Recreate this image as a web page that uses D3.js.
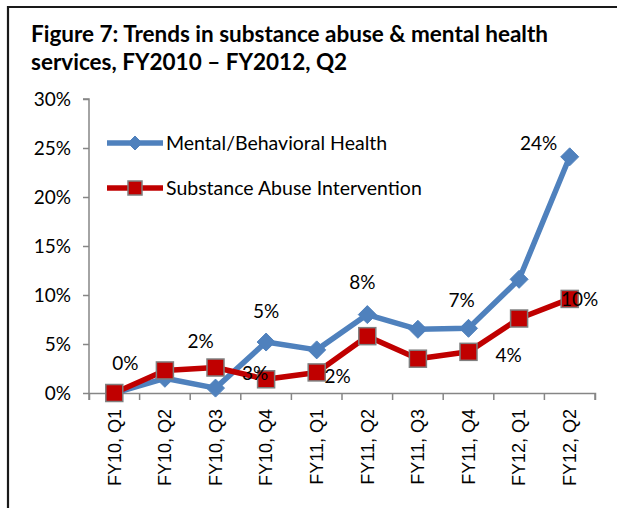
<!DOCTYPE html>
<html><head><meta charset="utf-8">
<script src="https://cdn.jsdelivr.net/npm/d3@7"></script>
<style>body{margin:0;background:#fff}svg{display:block}</style>
</head><body>
<svg id="c" width="617" height="508"></svg>
<script>
const categories = ["FY10, Q1","FY10, Q2","FY10, Q3","FY10, Q4","FY11, Q1","FY11, Q2","FY11, Q3","FY11, Q4","FY12, Q1","FY12, Q2"];
const mentalHealth = [0.0, 1.5, 0.5, 5.2, 4.4, 8.0, 6.5, 6.6, 11.6, 24.1];
const substanceAbuse = [0.0, 2.3, 2.6, 1.4, 2.1, 5.8, 3.5, 4.2, 7.6, 9.6];
const yTicks = [0, 5, 10, 15, 20, 25, 30];
const seriesNames = ["Mental/Behavioral Health", "Substance Abuse Intervention"];
// data labels as shown: text, category index, value anchor
const labelTexts = ["0%","2%","3%","5%","2%","8%","7%","4%","24%","10%"];
const labelCats  = [0, 2, 3, 3, 4, 5, 7, 7, 9, 9];
const labelVals  = [0.0, 0.5, 1.4, 5.2, 2.1, 8.0, 6.6, 4.2, 24.1, 9.6];

const svg = d3.select("#c");
const W = 617, H = 508;
const m = {left: 89, top: 99, right: 23, bottom: 115};
const x = d3.scaleBand().domain(categories).range([m.left, 595]).padding(0);
const y = d3.scaleLinear().domain([0, 30]).range([393, 99]);
const F = "Lato, 'Open Sans', sans-serif";

// frame
svg.append("path").attr("d", `M8,${H+5} L8,7 L${W+5},7`).attr("fill","none").attr("stroke","#1a1a1a").attr("stroke-width",2.2);

// title
const title = svg.append("text").attr("font-family",F).attr("font-weight","bold").attr("font-size",22.5).attr("fill","#000");
title.append("tspan").attr("x",31).attr("y",42).text("Figure 7: Trends in substance abuse & mental health");
title.append("tspan").attr("x",31).attr("y",70).text("services, FY2010 \u2013 FY2012, Q2");

// y axis
const yAxis = d3.axisLeft(y).tickValues(yTicks).tickFormat(d => d + "%").tickSize(6).tickPadding(12);
const gy = svg.append("g").attr("transform",`translate(${m.left},0)`).call(yAxis);
gy.select(".domain").attr("stroke","#868686").attr("stroke-width",1.5).attr("d", `M-6,${y(30)}H0V${y(0)}`);
gy.selectAll(".tick line").attr("stroke","#868686").attr("stroke-width",1.5);
gy.selectAll(".tick text").attr("font-family",F).attr("font-size",19).attr("fill","#000");

// x axis
const xAxis = d3.axisBottom(x).tickSize(7).tickSizeOuter(7);
const gx = svg.append("g").attr("transform",`translate(0,${y(0)})`).call(xAxis);
gx.select(".domain").attr("stroke","#868686").attr("stroke-width",1.5);
gx.selectAll(".tick line").attr("stroke","#868686").attr("stroke-width",1.5)
  .attr("transform", `translate(${x.bandwidth()/2},0)`);
gx.selectAll(".tick text").attr("font-family","'Liberation Sans', Arial, sans-serif").attr("font-size",18).attr("fill","#000")
  .attr("transform","rotate(-90)").attr("text-anchor","end").attr("x",-16).attr("y",0).attr("dy","0.35em").attr("dx",0);
gx.append("line").attr("x1",m.left).attr("x2",m.left).attr("y1",0).attr("y2",7).attr("stroke","#868686").attr("stroke-width",1.5);

const cx = d => x(d) + x.bandwidth()/2;
const line = d3.line().x((d,i) => cx(categories[i])).y(d => y(d));

const blue = "#4f81bd", red = "#c00000";
svg.append("path").datum(mentalHealth).attr("d", line).attr("fill","none").attr("stroke",blue).attr("stroke-width",5.5).attr("stroke-linejoin","round");
svg.append("path").datum(substanceAbuse).attr("d", line).attr("fill","none").attr("stroke",red).attr("stroke-width",5.5).attr("stroke-linejoin","round");

const diamond = (g, px, py, s) => g.append("path")
  .attr("d", `M${px},${py-s}L${px+s},${py}L${px},${py+s}L${px-s},${py}Z`).attr("fill",blue).attr("stroke",blue).attr("stroke-width",1);
const square = (g, px, py, s) => g.append("rect")
  .attr("x",px-s).attr("y",py-s).attr("width",2*s).attr("height",2*s).attr("fill",red).attr("stroke","#7f7f7f").attr("stroke-width",1.5);

const gm = svg.append("g");
mentalHealth.forEach((v,i) => diamond(gm, cx(categories[i]), y(v), 9));
const gs = svg.append("g");
substanceAbuse.forEach((v,i) => square(gs, cx(categories[i]), y(v), 8.5));

// data labels
const labelDx = [11, -15, -11, 0, 21, -5, -7, 40, -31, 10];
const labelDy = [-23, -40, 1, -24, 11, -26, -21, 10, -7, 7];
labelTexts.forEach((t,i) => {
  svg.append("text").attr("x", cx(categories[labelCats[i]]) + labelDx[i]).attr("y", y(labelVals[i]) + labelDy[i])
    .attr("text-anchor","middle").attr("font-family",F).attr("font-size",19).attr("fill","#000").text(t);
});

// legend
const lg = svg.append("g");
const lys = [143, 188];
lg.append("line").attr("x1",107).attr("x2",163).attr("y1",lys[0]).attr("y2",lys[0]).attr("stroke",blue).attr("stroke-width",5.5);
diamond(lg, 135, lys[0], 7);
lg.append("line").attr("x1",107).attr("x2",163).attr("y1",lys[1]).attr("y2",lys[1]).attr("stroke",red).attr("stroke-width",5.5);
square(lg, 135, lys[1], 7);
seriesNames.forEach((n,i) => lg.append("text").attr("x",166).attr("y",lys[i]+7).attr("font-family",F).attr("font-size",19.5).attr("fill","#000").text(n));
</script>
</body></html>
